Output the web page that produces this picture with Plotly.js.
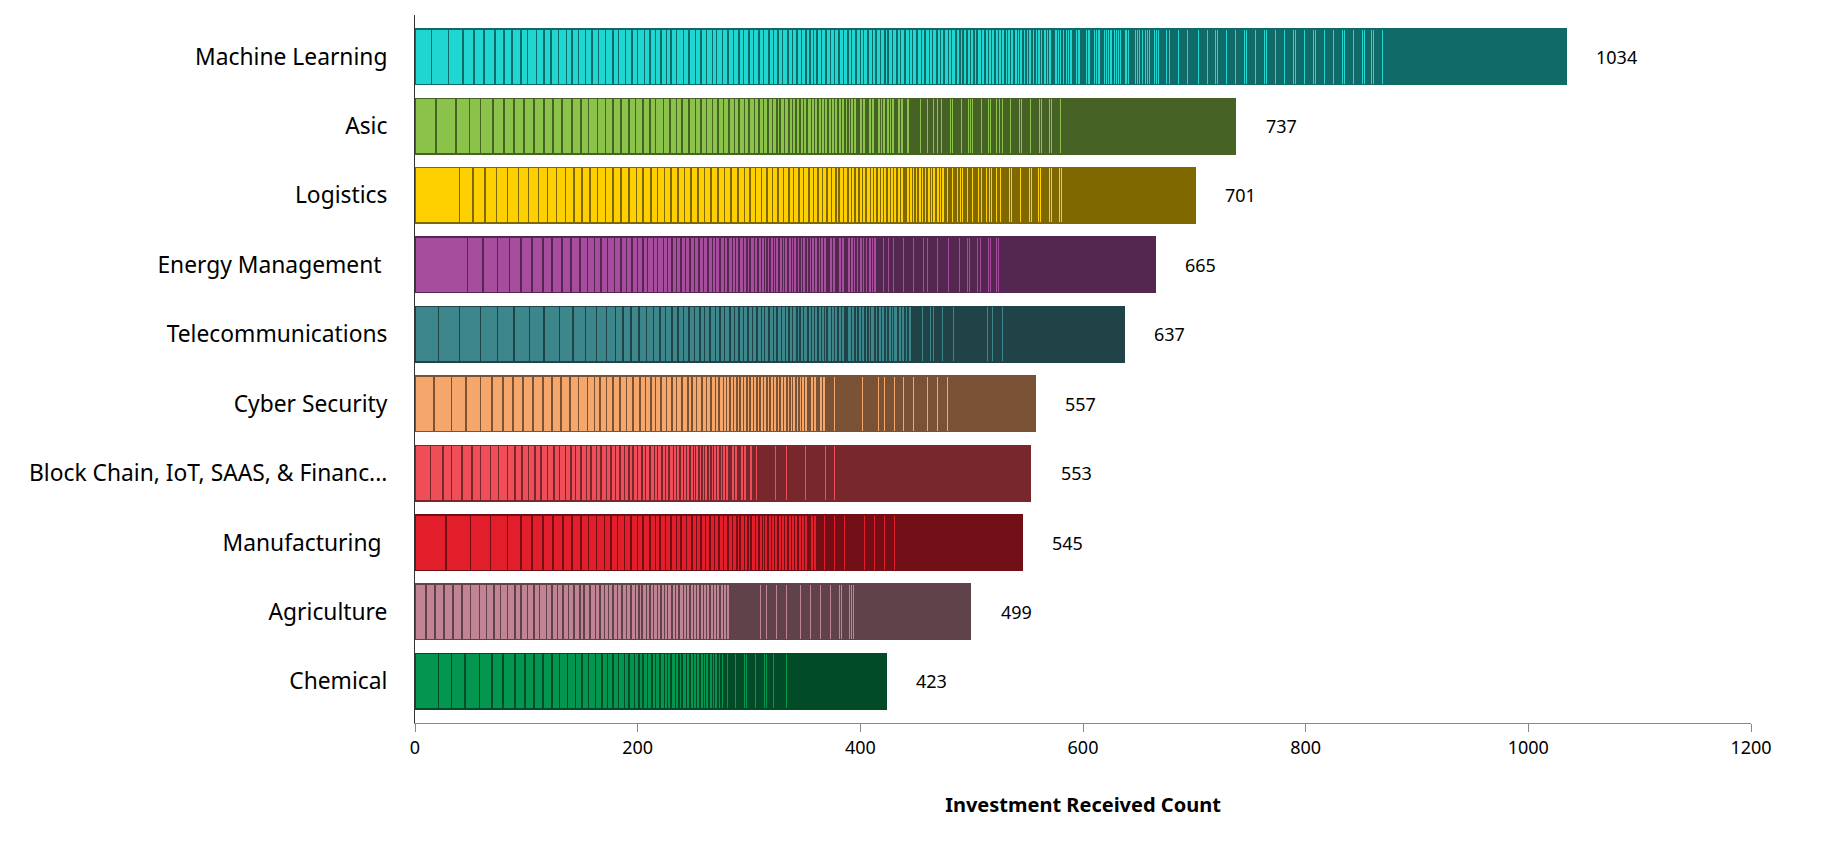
<!DOCTYPE html>
<html><head><meta charset="utf-8">
<script src="https://cdn.plot.ly/plotly-3.0.1.min.js"></script>
<style>html,body{margin:0;padding:0;background:#fff}#chart{width:1822px;height:857px}</style>
</head><body><div id="chart"></div>
<script>
const categories = ["Machine Learning","Asic","Logistics","Energy Management ","Telecommunications","Cyber Security","Block Chain, IoT, SAAS, & Financ...","Manufacturing ","Agriculture","Chemical"];
const totals = [1034,737,701,665,637,557,553,545,499,423];
const fillColors = ["#1FD6D0","#8BC34A","#FFD000","#A64D9E","#3D868C","#F4A66B","#EF4E58","#E31E2B","#C08494","#039650"];
const lineColors = ["#106B68","#466225","#806800","#53274F","#1F4346","#7A5336","#78272C","#720F16","#60424A","#024B28"];

// investment counts per investor, left to right (light-filled segments)
const headML = [15,15,13,10,9,10,8,7,8,6,8,7,6,7,7,5,6,6,6,6,6,7,5,6,6,5,6,5,5,5,5,4,5,6,5,6,5,5,5,4,5,5,5,5,4,5,4,5,4,5,4,4,4,5,4,4,4,4,4,3,3,4,4,4,4,4,4,4,3,4,4,3,4,4,3,4,4,3,4,4,3,4,4,3,4,4,3,4,3,4,3,3,4,3,4,3,1,2,4,3,3,3,4,3,3,
  3,3,3,3,3,2,3,3,3,2,3,3,2,3,3,2,3,2,3,2,3,2,3,2,2,3,2,2,3,2,2,3,2,2,2,3,2,2,2,3,2,2,2,2,3,2,2,2,2,2,3,2,2,2,2,2,2,3,2,2,2,2,2,2,2,2];
const headAsic = [19,18,12,10,11,10,9,9,9,9,8,8,9,8,7,8,7,7,7,7,6,7,6,5,7,6,6,5,6,6,5,5,5,5,5,5,5,4,5,4,5,4,4,4,4,4,3,4,4,3,3,4,3,3,4,3,3,3,3,3,3,3,3,3,3,3,2,3,3,2,3,3,2,3,3,2,3,2,3,3,2,3,2,3,3,2,3];
const headLogistics = [40,12,11,10,10,10,9,9,8,8,8,8,7,7,7,7,7,7,7,7,6,7,6,6,6,6,6,6,6,6,6,6,6,6,6,6,5,5,5,5,5,5,5,5,4,5,4,5,4,4,4,4,4,4,3,4,4,3,3,4,3,3,4,3,3,3,3,3,3,3,3,3,3,2,3,3,2,3,3,2,3,3,2,3,3,2,3];
const headEnergy = [47,14,13,11,10,10,10,8,9,8,8,7,6,6,6,6,6,5,5,5,5,4,5,4,5,4,4,4,4,4,4,4,4,4,4,4,3,4,4,3,4,3,3,4,3,3,4,3,3,3,2,3,3,2,3,3,2,3,3,2,3,3,2,3,3,2,3,3,2,3,3,2,3,3,2,3,3,2,3,3,2,3,3,2,3,3,2,3];
const headTelecom = [21,19,19,15,15,14,13,14,12,11,10,9,8,7,7,7,7,6,6,5,6,5,5,5,5,5,4,5,5,4,4,5,4,4,4,4,4,4,4,3,4,4,3,4,4,3,3,4,3,3,4,3,3,3,3,3,2,4,3,3,3,3,2,4,3,3,3,3,3,2,4,3,3,3,3,3,2,4,3,3,3,3];
const headCyber = [17,16,13,13,10,10,9,9,9,9,8,8,8,8,8,6,5,6,6,6,6,6,6,5,5,4,5,5,5,4,5,5,4,4,5,4,4,4,3,4,3,3,3,3,3,3,3,3,3,3,3,3,3,3,3,3,3,3,3,3,2,3,3,2,3,3,2,3,3,2,3,3,2];
const headBlock = [14,11,8,9,9,8,9,7,8,7,6,6,6,5,6,6,5,5,5,4,5,5,4,5,4,5,4,4,4,4,4,4,4,4,3,4,4,3,4,3,3,4,3,3,3,3,3,3,2,3,3,2,3,3,2,3,3,2,3,3,2,3,3,2,3,3,2,3];
const headManuf = [28,22,18,15,12,10,10,9,9,8,8,7,7,7,6,6,6,6,6,5,6,5,4,5,5,5,4,5,5,4,4,4,4,4,4,4,4,4,4,3,4,3,3,4,3,3,2,3,3,3,3,3,3,3,3,3,3,3,3,3,2,3,3,2];
const headAgri = [10,8,8,8,8,8,8,6,7,6,6,7,5,6,6,5,6,5,5,5,5,5,5,4,5,5,4,4,4,4,4,4,4,4,4,3,3,4,3,3,4,3,3,3,4,3,3,4,3,3,3,3,3,3,3,3,3,3,3,3,3,3];
const headChem = [21,12,12,13,11,10,11,9,8,8,8,7,7,7,6,6,6,6,5,5,5,5,4,5,4,4,4,4,3,4,4,3,3,4,3,3,4,3,3,3,3,3,2,3,3,2,3,3];

// dark zone: number of single-count investors before each two-count investor
const runsML = [3,1,6,6,0,6,6,5,0,6,6,1,3,0,6,6,0,6,6,6,0,6,6,0,6,6,6,0,6,6,0,4,0,6];
const runsAsic = [6,1,2,0,4,1,2,1,3,0,1,3,1,1,0,0,0,4,1,1,0,1,0,1,1,5,0,4,0,0,4,0,4,0,5,0,0,4];
const runsLogistics = [1,3,0,0,1,0,0,0,3,1,0,1,0,0,1,0,2,2,6,0,0,4,0,4,0,4,0,1,3,0,5,0];
const runsEnergy = [5,0,0,3,1,4,0,5,1,4,1,5,0,5,1,5,1,5,0,5,1,5,0,3,0];
const runsTelecom = [9,0,3,1,6,0,6,0,6,6,0,6,0,3,0,5];
const runsCyber = [5,0,6,0,5,0,2,2,6,0,4,0,5,0,4,0,5,0,6,0,5,0,5,0];
const runsBlock = [3,0,6,5,0,6,0,6,5,1,5,6,6,0,6];
const runsManuf = [4,0,5,0,5,1,5,0,4,0,5,0,5,0,5,0,5,0,5,0];
const runsAgri = [6,0,5,0,5,0,4,0,5,0,5,0,6,0,5,0,5,0,5,0,6,0,5,0,0];
const runsChem = [0,3,0,3,0,4,0,6,0,4,0,4,3,5];

const heads = [headML,headAsic,headLogistics,headEnergy,headTelecom,headCyber,headBlock,headManuf,headAgri,headChem];
const runs = [runsML,runsAsic,runsLogistics,runsEnergy,runsTelecom,runsCyber,runsBlock,runsManuf,runsAgri,runsChem];

function segmentsFor(i) {
  const segs = heads[i].slice();
  runs[i].forEach(n => { for (let k = 0; k < n; k++) segs.push(1); segs.push(2); });
  const used = segs.reduce((a, b) => a + b, 0);
  for (let k = 0; k < totals[i] - used; k++) segs.push(1); // remaining single-count investors
  return segs;
}

const traces = categories.map((cat, i) => {
  const segs = segmentsFor(i);
  return {
    type: 'bar', orientation: 'h',
    x: segs, y: segs.map(() => cat),
    marker: { color: fillColors[i], line: { color: lineColors[i], width: 1.5 } },
    hoverinfo: 'skip', showlegend: false
  };
});

const annotations = categories.map((cat, i) => ({
  x: totals[i], y: cat, xref: 'x', yref: 'y',
  text: String(totals[i]), showarrow: false, xanchor: 'left', yanchor: 'middle',
  xshift: 28, font: { family: 'Noto Sans', size: 18, color: '#000' }
}));

const layout = {
  width: 1822, height: 857,
  margin: { l: 415, r: 71, t: 15, b: 134 },
  paper_bgcolor: '#fff', plot_bgcolor: '#fff',
  barmode: 'stack', bargap: 0.2,
  hovermode: false,
  font: { family: 'Noto Sans', color: '#000' },
  xaxis: {
    range: [0, 1200], dtick: 200, tick0: 0,
    showgrid: false, zeroline: false,
    showline: true, linecolor: '#888', linewidth: 1,
    ticks: 'outside', ticklen: 8, tickcolor: '#888',
    tickfont: { family: 'Noto Sans', size: 18, color: '#000' },
    title: { text: '<b>Investment Received Count</b>', font: { family: 'Noto Sans', size: 20, color: '#000' }, standoff: 40 }
  },
  yaxis: {
    type: 'category', categoryorder: 'array', categoryarray: categories,
    range: [9.6, -0.6],
    showgrid: false, zeroline: false,
    showline: true, linecolor: '#333', linewidth: 1,
    ticks: '', ticklabelstandoff: 22,
    tickfont: { family: 'Noto Sans', size: 22.8, color: '#000' }
  },
  annotations: annotations
};

Plotly.newPlot('chart', traces, layout, { staticPlot: true, displayModeBar: false });
</script></body></html>
